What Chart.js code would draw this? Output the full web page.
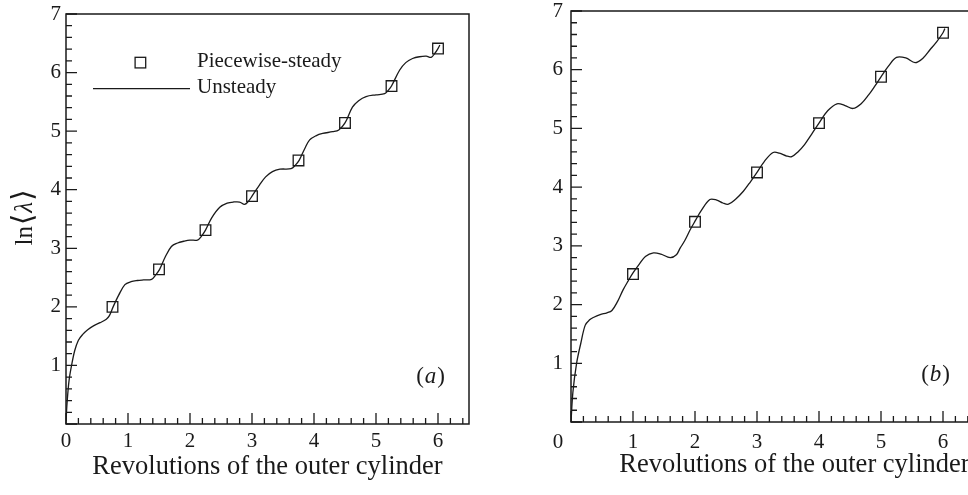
<!DOCTYPE html>
<html>
<head>
<meta charset="utf-8">
<script src="https://cdn.jsdelivr.net/npm/chart.js@4.4.1/dist/chart.umd.min.js"></script>
<style>
html,body{margin:0;padding:0;background:#fff;width:968px;height:495px;overflow:hidden;position:relative;}
canvas{position:absolute;top:0;}
#cA{left:0;}
#cB{left:500px;}
</style>
</head>
<body>
<canvas id="cA" width="500" height="495"></canvas>
<canvas id="cB" width="520" height="495"></canvas>
<script>
// ---------- data: panel (a) ----------
const aSteadyX = [0.75, 1.5, 2.25, 3.0, 3.75, 4.5, 5.25, 6.0];
const aSteadyY = [2.0, 2.64, 3.31, 3.89, 4.5, 5.14, 5.77, 6.41];
const aUnsteadyX = [0, 0.02, 0.05, 0.09, 0.14, 0.2, 0.27, 0.35, 0.45, 0.55, 0.65, 0.7, 0.76, 0.85, 0.95, 1.05, 1.15, 1.25, 1.38, 1.45, 1.51, 1.6, 1.7, 1.8, 1.9, 2.0, 2.12, 2.18, 2.25, 2.35, 2.48, 2.6, 2.7, 2.8, 2.88, 2.94, 3.0, 3.12, 3.22, 3.33, 3.45, 3.63, 3.7, 3.76, 3.85, 3.93, 4.03, 4.14, 4.3, 4.4, 4.5, 4.62, 4.72, 4.84, 5.0, 5.14, 5.2, 5.25, 5.38, 5.48, 5.59, 5.7, 5.81, 5.89, 5.95, 6.0, 6.03];
const aUnsteadyY = [0.05, 0.4, 0.75, 1.0, 1.25, 1.43, 1.53, 1.61, 1.68, 1.73, 1.79, 1.85, 2.0, 2.2, 2.38, 2.43, 2.45, 2.46, 2.47, 2.55, 2.64, 2.85, 3.03, 3.09, 3.12, 3.14, 3.14, 3.2, 3.31, 3.52, 3.7, 3.77, 3.79, 3.79, 3.75, 3.8, 3.89, 4.08, 4.22, 4.31, 4.35, 4.36, 4.42, 4.5, 4.7, 4.85, 4.92, 4.96, 4.99, 5.02, 5.14, 5.41, 5.52, 5.59, 5.62, 5.64, 5.7, 5.77, 6.04, 6.17, 6.24, 6.27, 6.28, 6.26, 6.33, 6.41, 6.47];

// ---------- data: panel (b) ----------
const bSteadyX = [1, 2, 3, 4, 5, 6];
const bSteadyY = [2.52, 3.41, 4.25, 5.09, 5.88, 6.63];
const bUnsteadyX = [0, 0.03, 0.09, 0.16, 0.23, 0.3, 0.36, 0.47, 0.58, 0.66, 0.75, 0.84, 0.92, 1.0, 1.11, 1.2, 1.33, 1.45, 1.6, 1.7, 1.76, 1.84, 1.92, 2.0, 2.1, 2.24, 2.35, 2.45, 2.54, 2.65, 2.78, 2.9, 3.0, 3.12, 3.26, 3.36, 3.48, 3.56, 3.66, 3.77, 3.88, 4.0, 4.14, 4.29, 4.42, 4.55, 4.68, 4.8, 4.9, 5.0, 5.12, 5.25, 5.4, 5.55, 5.68, 5.79, 5.9, 6.0, 6.03];
const bUnsteadyY = [0, 0.5, 1.0, 1.35, 1.65, 1.74, 1.78, 1.83, 1.86, 1.9, 2.05, 2.25, 2.4, 2.54, 2.7, 2.82, 2.88, 2.86, 2.8, 2.85, 2.96, 3.1, 3.27, 3.42, 3.6, 3.79, 3.78, 3.73, 3.71, 3.79, 3.93, 4.1, 4.25, 4.44, 4.59, 4.58, 4.53, 4.52, 4.6, 4.73, 4.9, 5.09, 5.3, 5.42, 5.39, 5.34, 5.42, 5.57, 5.72, 5.88, 6.06, 6.21, 6.2, 6.12, 6.2, 6.34, 6.48, 6.63, 6.7];

// ---------- labels / ticks ----------
const xTickValues = [0, 1, 2, 3, 4, 5, 6];
const yTickValues = [1, 2, 3, 4, 5, 6, 7];
const legendLabels = ['Piecewise-steady', 'Unsteady'];
const xTitle = 'Revolutions of the outer cylinder';
const panelLetters = ['a', 'b'];

const SERIF = '"Liberation Serif", "Times New Roman", "DejaVu Serif", serif';
const INK = '#1a1a1a';

function pts(xs, ys){ return xs.map((x,i)=>({x:x, y:ys[i]})); }

function makeFramePlugin(opts){
  return {
    id: 'frame' + opts.letter,
    afterDatasetsDraw(chart){
      const ctx = chart.ctx, a = chart.chartArea;
      const xs = chart.scales.x, ys = chart.scales.y;
      ctx.save();
      ctx.strokeStyle = INK;
      ctx.lineWidth = 1.5;
      ctx.strokeRect(a.left, a.top, a.right - a.left, a.bottom - a.top);
      // inward ticks
      ctx.lineWidth = 1.3;
      ctx.beginPath();
      const nx = Math.floor(xs.max * 5 + 1e-9), ny = Math.floor(ys.max * 5 + 1e-9);
      for (let i = 0; i <= nx; i++){
        const px = xs.getPixelForValue(i / 5);
        const len = (i % 5 === 0) ? 11 : 6;
        ctx.moveTo(px, a.bottom); ctx.lineTo(px, a.bottom - len);
      }
      for (let i = 0; i <= ny; i++){
        const py = ys.getPixelForValue(i / 5);
        const len = (i % 5 === 0) ? 11 : 6;
        ctx.moveTo(a.left, py); ctx.lineTo(a.left + len, py);
      }
      ctx.stroke();

      // x title
      ctx.fillStyle = INK;
      ctx.font = '26.5px ' + SERIF;
      ctx.textAlign = 'center';
      ctx.textBaseline = 'middle';
      ctx.fillText(xTitle, (a.left + a.right) / 2 + opts.titleShift, a.bottom + 43);

      // panel letter "(a)" / "(b)"
      const lx = opts.letterX, ly = ys.getPixelForValue(0.8);
      const up = '23px ' + SERIF, it = 'italic 23px ' + SERIF;
      ctx.textAlign = 'left';
      ctx.font = up; const w1 = ctx.measureText('(').width;
      ctx.font = it; const w2 = ctx.measureText(opts.letter).width;
      ctx.font = up; const w3 = ctx.measureText(')').width;
      let x0 = lx - (w1 + w2 + w3 + 2);
      ctx.font = up; ctx.fillText('(', x0, ly);
      ctx.font = it; ctx.fillText(opts.letter, x0 + w1 + 1, ly);
      ctx.font = up; ctx.fillText(')', x0 + w1 + w2 + 2, ly);

      if (opts.legend){
        ctx.lineWidth = 1.3;
        const sx = xs.getPixelForValue(1.2), sy = ys.getPixelForValue(6.17);
        ctx.strokeRect(sx - 5.3, sy - 5.3, 10.6, 10.6);
        const ly2 = sy + 26;
        ctx.beginPath(); ctx.moveTo(a.left + 27, ly2); ctx.lineTo(a.left + 124, ly2); ctx.stroke();
        ctx.font = '21px ' + SERIF;
        ctx.textBaseline = 'middle';
        ctx.fillText(legendLabels[0], a.left + 131, sy - 1);
        ctx.fillText(legendLabels[1], a.left + 131, ly2 - 1);
      }
      if (opts.yTitle){
        ctx.save();
        ctx.translate(a.left - 34, (a.top + a.bottom) / 2);
        ctx.rotate(-Math.PI / 2);
        const parts = [['ln', '25px ' + SERIF], ['\u27E8', '29px "DejaVu Serif", serif'], ['\u03BB', 'italic 25px ' + SERIF], ['\u27E9', '29px "DejaVu Serif", serif']];
        let tw = 0; parts.forEach(p => { ctx.font = p[1]; tw += ctx.measureText(p[0]).width; });
        let cx = -tw / 2;
        ctx.textBaseline = 'alphabetic';
        parts.forEach(p => { ctx.font = p[1]; ctx.fillText(p[0], cx, 0); cx += ctx.measureText(p[0]).width + 1; });
        ctx.restore();
      }
      if (opts.zeroShift){
        ctx.font = '21px ' + SERIF;
        ctx.textAlign = 'center';
        ctx.textBaseline = 'top';
        ctx.fillText('0', xs.getPixelForValue(0) - opts.zeroShift, a.bottom + 10);
      }
      ctx.restore();
    }
  };
}

function makeChart(id, cfg){
  return new Chart(document.getElementById(id), {
    type: 'scatter',
    data: {
      datasets: [
        { label: legendLabels[1], data: pts(cfg.ux, cfg.uy), showLine: true, pointRadius: 0,
          borderColor: INK, borderWidth: 1.3, tension: 0.35, fill: false },
        { label: legendLabels[0], data: pts(cfg.sx, cfg.sy), showLine: false, pointStyle: 'rect',
          pointRadius: 7.5, pointBorderWidth: 1.3, borderColor: INK, backgroundColor: 'rgba(0,0,0,0)',
          pointBackgroundColor: 'rgba(0,0,0,0)' }
      ]
    },
    options: {
      responsive: false, animation: false, devicePixelRatio: 1,
      layout: { padding: { left: 0, top: cfg.top, right: cfg.right, bottom: 0 } },
      plugins: { legend: { display: false }, tooltip: { enabled: false } },
      scales: {
        x: {
          type: 'linear', min: 0, max: 6.5,
          grid: { display: false, drawTicks: false }, border: { display: false },
          afterBuildTicks: s => { s.ticks = xTickValues.map(v => ({ value: v })); },
          ticks: { autoSkip: false, maxRotation: 0, padding: cfg.xpad, color: INK,
            font: { family: SERIF, size: 21, lineHeight: 1 },
            callback: v => (cfg.hideX0 && v === 0) ? '' : String(v) },
          afterFit: s => { s.height = cfg.xh; s.paddingLeft = 0; s.paddingRight = 0; }
        },
        y: {
          type: 'linear', min: 0, max: 7,
          grid: { display: false, drawTicks: false }, border: { display: false },
          afterBuildTicks: s => { s.ticks = yTickValues.map(v => ({ value: v })); },
          ticks: { autoSkip: false, padding: cfg.ypad, color: INK,
            font: { family: SERIF, size: 21, lineHeight: 1 },
            callback: v => String(v) },
          afterFit: s => { s.width = cfg.yw; s.paddingTop = 0; s.paddingBottom = 0; }
        }
      }
    },
    plugins: [makeFramePlugin(cfg.frame)]
  });
}

makeChart('cA', { ux: aUnsteadyX, uy: aUnsteadyY, sx: aSteadyX, sy: aSteadyY,
  top: 14, right: 31, xh: 71, yw: 66, xpad: 7, ypad: 5, hideX0: false,
  frame: { letter: panelLetters[0], letterX: 445, titleShift: 0, legend: true, yTitle: true } });

makeChart('cB', { ux: bUnsteadyX, uy: bUnsteadyY, sx: bSteadyX, sy: bSteadyY,
  top: 11, right: 46, xh: 73, yw: 71, xpad: 10, ypad: 8, hideX0: true,
  frame: { letter: panelLetters[1], letterX: 450, titleShift: 22, legend: false, yTitle: false, zeroShift: 13 } });
</script>
</body>
</html>
